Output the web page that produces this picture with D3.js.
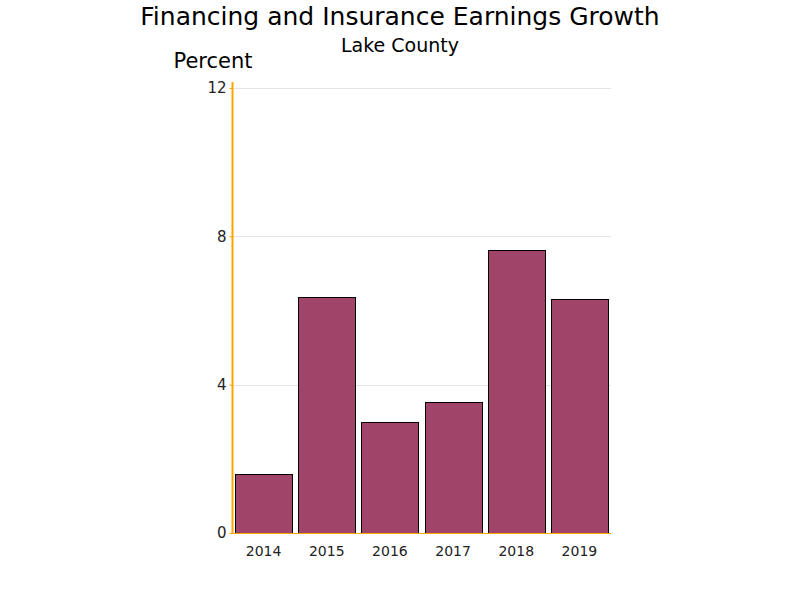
<!DOCTYPE html>
<html><head><meta charset="utf-8">
<script src="https://cdn.jsdelivr.net/npm/d3@7"></script>
<style>body{margin:0;background:#fff}svg{display:block}</style>
</head><body>
<svg id="c" width="800" height="600"></svg>
<script>
const years = ["2014","2015","2016","2017","2018","2019"];
const values = [1.59, 6.36, 2.99, 3.53, 7.63, 6.31];
const yTicks = [0, 4, 8, 12];

const svg = d3.select("#c");
const font = "'DejaVu Sans', sans-serif";
const x = d3.scaleBand().domain(years).range([232, 611]).paddingInner(0.1).paddingOuter(0.05);
const y = d3.scaleLinear().domain([0, 12]).range([533, 88]);

// gridlines
svg.append("g").selectAll("line").data(yTicks.filter(d => d > 0)).join("line")
  .attr("x1", 232).attr("x2", 611)
  .attr("y1", d => Math.round(y(d)) + 0.5).attr("y2", d => Math.round(y(d)) + 0.5)
  .attr("stroke", "#e3e3e3").attr("stroke-width", 1);

// bars
svg.append("g").selectAll("rect").data(values).join("rect")
  .attr("x", (d, i) => Math.round(x(years[i])) + 0.5)
  .attr("y", d => Math.round(y(d)) + 0.5)
  .attr("width", Math.round(x.bandwidth()))
  .attr("height", d => Math.round(y(0)) - Math.round(y(d)))
  .attr("fill", "#a0446a").attr("stroke", "#000").attr("stroke-width", 1);

// y axis
const ya = svg.append("g").attr("transform", "translate(232.5,0)")
  .call(d3.axisLeft(y).tickValues(yTicks).tickSize(3).tickPadding(3).tickFormat(d3.format("d")));
ya.select(".domain").remove();
ya.selectAll(".tick line").attr("stroke", "#ffa500");
ya.selectAll("text").attr("font-family", font).attr("font-size", 15).attr("fill", "#222");
svg.append("line").attr("x1", 232.5).attr("x2", 232.5).attr("y1", 82).attr("y2", 533.5)
  .attr("stroke", "#ffa500").attr("stroke-width", 2);

// x axis
const xa = svg.append("g").attr("transform", "translate(0,533.5)")
  .call(d3.axisBottom(x).tickSize(0).tickPadding(13));
xa.select(".domain").remove();
xa.selectAll("text").attr("font-family", font).attr("font-size", 14).attr("fill", "#222");
svg.append("line").attr("x1", 231).attr("x2", 611).attr("y1", 533.5).attr("y2", 533.5)
  .attr("stroke", "#ffa500").attr("stroke-width", 1);

// titles
svg.append("text").attr("x", 400).attr("y", 25).attr("text-anchor", "middle")
  .attr("font-family", font).attr("font-size", 25).attr("fill", "#000")
  .text("Financing and Insurance Earnings Growth");
svg.append("text").attr("x", 400).attr("y", 52).attr("text-anchor", "middle")
  .attr("font-family", font).attr("font-size", 19).attr("fill", "#000")
  .text("Lake County");
svg.append("text").attr("x", 213).attr("y", 68).attr("text-anchor", "middle")
  .attr("font-family", font).attr("font-size", 21).attr("fill", "#000")
  .text("Percent");
</script>
</body></html>
